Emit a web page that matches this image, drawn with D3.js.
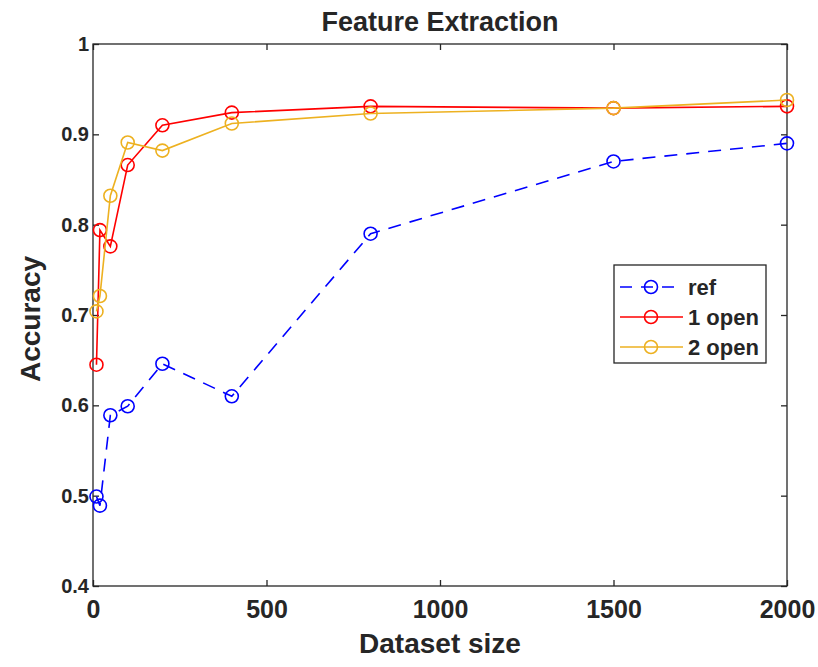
<!DOCTYPE html>
<html>
<head>
<meta charset="utf-8">
<script src="https://cdn.jsdelivr.net/npm/d3@7"></script>
<style>
  body { margin: 0; background: #fff; }
  text { font-family: "Liberation Sans", Arial, sans-serif; font-weight: bold; fill: #262626; }
</style>
</head>
<body>
<script>
// data
let sizes = [10, 20, 50, 100, 200, 400, 800, 1500, 2000];
let refAcc = [0.499, 0.489, 0.589, 0.599, 0.646, 0.610, 0.790, 0.870, 0.890];
let open1Acc = [0.645, 0.794, 0.776, 0.866, 0.910, 0.924, 0.931, 0.929, 0.931];
let open2Acc = [0.704, 0.721, 0.832, 0.891, 0.882, 0.912, 0.923, 0.929, 0.938];
let seriesNames = ['ref', '1 open', '2 open'];
let xTicks = [0, 500, 1000, 1500, 2000];
let yTicks = [0.4, 0.5, 0.6, 0.7, 0.8, 0.9, 1];

let series = [
    {name: seriesNames[0], values: refAcc, color: '#0000ff', dash: '13,9'},
    {name: seriesNames[1], values: open1Acc, color: '#ff0000', dash: null},
    {name: seriesNames[2], values: open2Acc, color: '#edb120', dash: null}
];

// Setup SVG
let W = 818, H = 667;
let margin = {top: 44, right: 31, bottom: 81, left: 93},
    width = W - margin.left - margin.right,
    height = H - margin.top - margin.bottom;

let svg = d3.select('body').append('svg')
    .attr('width', W)
    .attr('height', H);

let g = svg.append('g')
    .attr('transform', 'translate(' + margin.left + ',' + margin.top + ')');

let x = d3.scaleLinear().domain([0, 2000]).range([0, width]);
let y = d3.scaleLinear().domain([0.4, 1]).range([height, 0]);

let axisColor = '#262626';
let tickLen = 6;

// box
g.append('rect')
    .attr('width', width)
    .attr('height', height)
    .attr('fill', 'none')
    .attr('stroke', axisColor)
    .attr('stroke-width', 1.3);

// axes (ticks point inward, mirrored on top/right)
let xAxis = g.append('g')
    .attr('transform', `translate(0,${height})`)
    .call(d3.axisBottom(x).tickValues(xTicks).tickSizeInner(-tickLen).tickSizeOuter(0).tickPadding(14)
        .tickFormat(d3.format('d')));
let xTop = g.append('g')
    .call(d3.axisTop(x).tickValues(xTicks).tickSizeInner(-tickLen).tickSizeOuter(0).tickFormat(''));
let yAxis = g.append('g')
    .call(d3.axisLeft(y).tickValues(yTicks).tickSizeInner(-tickLen).tickSizeOuter(0).tickPadding(4)
        .tickFormat(d => d === 1 ? '1' : d3.format('.1f')(d)));
let yRight = g.append('g')
    .attr('transform', `translate(${width},0)`)
    .call(d3.axisRight(y).tickValues(yTicks).tickSizeInner(-tickLen).tickSizeOuter(0).tickFormat(''));

[xAxis, xTop, yAxis, yRight].forEach(a => {
    a.select('.domain').remove();
    a.selectAll('.tick line').attr('stroke', axisColor).attr('stroke-width', 1.3);
});
xAxis.selectAll('.tick text').style('font-size', '25px').attr('fill', axisColor);
yAxis.selectAll('.tick text').style('font-size', '20px').attr('fill', axisColor);

// lines and markers
let line = d3.line()
    .x((d, i) => x(sizes[i]))
    .y(d => y(d));

series.forEach(s => {
    g.append('path')
        .datum(s.values)
        .attr('d', line)
        .attr('fill', 'none')
        .attr('stroke', s.color)
        .attr('stroke-width', 1.6)
        .attr('stroke-dasharray', s.dash);
    g.selectAll(null)
        .data(s.values)
        .enter().append('circle')
        .attr('cx', (d, i) => x(sizes[i]))
        .attr('cy', d => y(d))
        .attr('r', 6.5)
        .attr('fill', 'none')
        .attr('stroke', s.color)
        .attr('stroke-width', 1.6);
});

// title and axis labels
svg.append('text')
    .attr('x', margin.left + width / 2)
    .attr('y', 31)
    .attr('text-anchor', 'middle')
    .style('font-size', '27px')
    .text('Feature Extraction');

svg.append('text')
    .attr('x', margin.left + width / 2)
    .attr('y', 653)
    .attr('text-anchor', 'middle')
    .style('font-size', '28px')
    .text('Dataset size');

svg.append('text')
    .attr('transform', `translate(40,${margin.top + height / 2 + 4}) rotate(-90)`)
    .attr('text-anchor', 'middle')
    .style('font-size', '28px')
    .text('Accuracy');

// legend
let legend = svg.append('g').attr('transform', 'translate(614,265)');
legend.append('rect')
    .attr('width', 152)
    .attr('height', 98)
    .attr('fill', '#fff')
    .attr('stroke', axisColor)
    .attr('stroke-width', 1.3);

series.forEach((s, i) => {
    let ly = 22 + i * 30;
    legend.append('line')
        .attr('x1', 6).attr('x2', 69)
        .attr('y1', ly).attr('y2', ly)
        .attr('stroke', s.color)
        .attr('stroke-width', 1.6)
        .attr('stroke-dasharray', s.dash ? '12,9' : null);
    legend.append('circle')
        .attr('cx', 37).attr('cy', ly)
        .attr('r', 6.5)
        .attr('fill', 'none')
        .attr('stroke', s.color)
        .attr('stroke-width', 1.6);
    legend.append('text')
        .attr('x', 74)
        .attr('y', ly + 8)
        .style('font-size', '22px')
        .attr('fill', '#000')
        .text(s.name);
});
</script>
</body>
</html>
